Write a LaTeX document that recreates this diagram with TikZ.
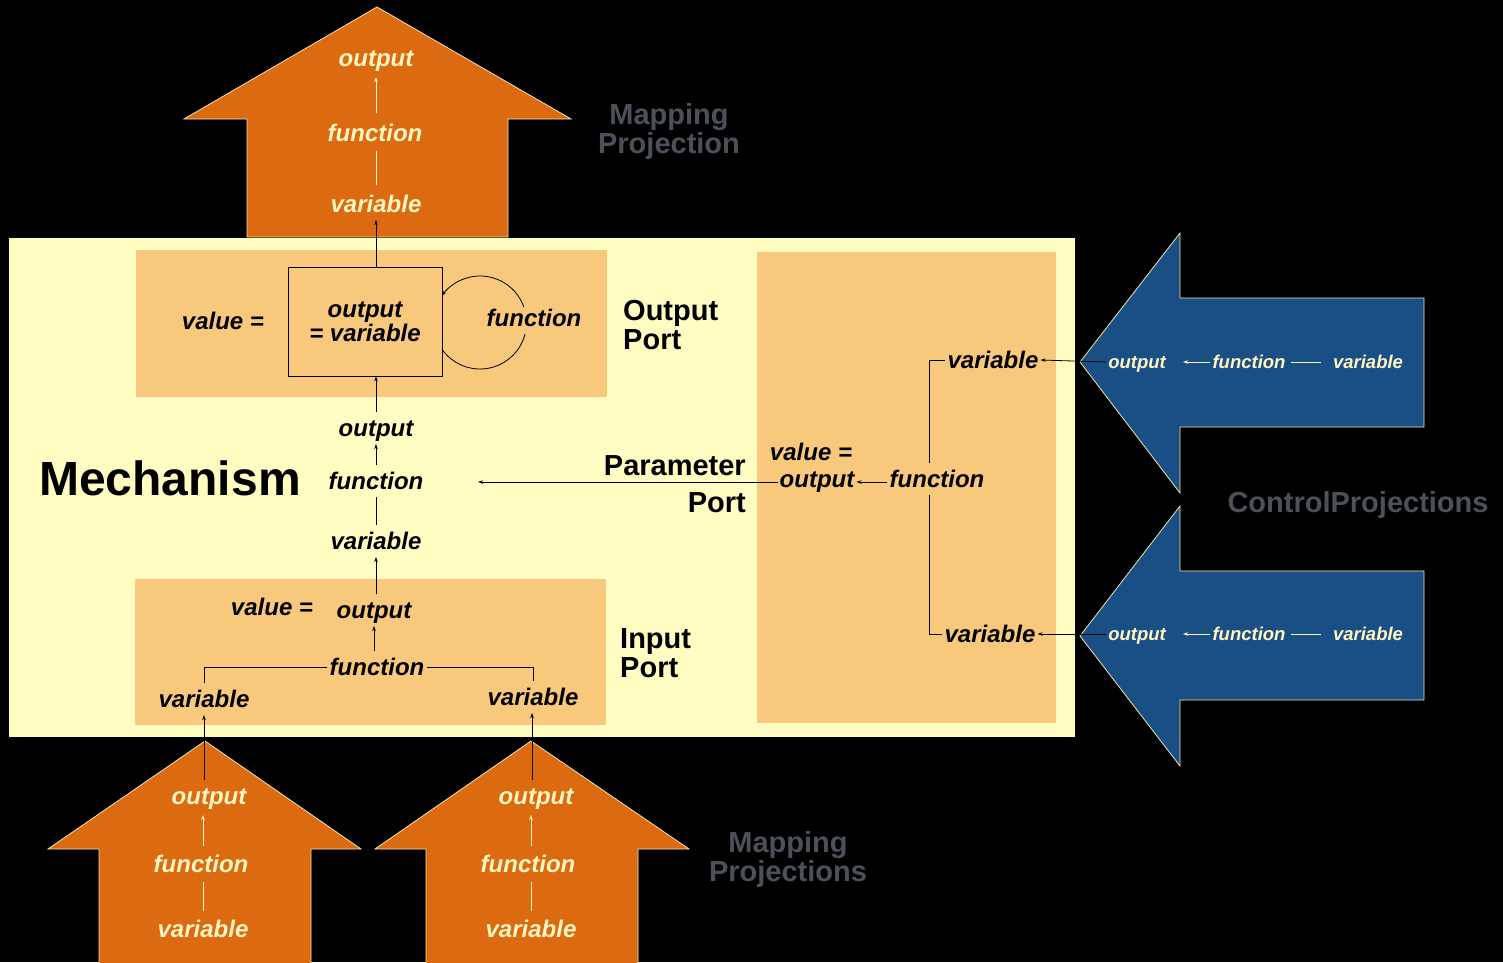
\documentclass[tikz,border=0pt]{standalone}
\usepackage{fontspec}
\setmainfont{Liberation Sans}
\usetikzlibrary{arrows.meta}
\definecolor{mechbg}{RGB}{255,253,194}
\definecolor{portbg}{RGB}{248,201,124}
\definecolor{orangeA}{RGB}{219,106,16}
\definecolor{blueA}{RGB}{26,79,134}
\definecolor{lighttext}{RGB}{255,246,194}
\definecolor{graytext}{RGB}{76,81,89}
\definecolor{edgecol}{RGB}{240,230,170}
\tikzset{
  itfont/.style={font=\fontsize{24}{24}\selectfont\bfseries\itshape},
  lbl/.style={itfont, text height=19.5pt, text depth=2pt, inner xsep=2pt, inner ysep=5pt},
  lbllight/.style={lbl, text=lighttext},
  smlbl/.style={font=\fontsize{18.5}{19}\selectfont\bfseries\itshape, text=lighttext, text height=14.5pt, text depth=1.5pt, inner xsep=2pt, inner ysep=3pt},
  bigtxt/.style={font=\fontsize{29}{29}\selectfont\bfseries, align=left, inner sep=0pt},
  graytxt/.style={font=\fontsize{29}{29}\selectfont\bfseries, text=graytext, align=center, inner sep=0pt},
  conn/.style={line width=0.8pt, draw=black},
  lconn/.style={line width=0.8pt, draw=lighttext},
  tip/.style={-{Stealth[length=5pt,width=3.5pt]}},
  arrowshape/.style={draw=edgecol, line width=0.8pt},
}
\begin{document}
\begin{tikzpicture}[x=1pt,y=-1pt]
\fill[black] (0,0) rectangle (1503,962);
\useasboundingbox (0,0) rectangle (1503,962);
% background shapes
\fill[mechbg] (9,238) rectangle (1075,737);
\draw[arrowshape, fill=orangeA] (377,7) -- (571,119) -- (508,119) -- (508,237) -- (247,237) -- (247,119) -- (184,119) -- cycle;
\draw[arrowshape, fill=orangeA] (205,741) -- (361,849) -- (311,849) -- (311,968) -- (99,968) -- (99,849) -- (48,849) -- cycle;
\draw[arrowshape, fill=orangeA] (531,741) -- (689,849) -- (638,849) -- (638,968) -- (426,968) -- (426,849) -- (375,849) -- cycle;
\draw[arrowshape, fill=blueA] (1080,362) -- (1180,233) -- (1180,298) -- (1424,298) -- (1424,427) -- (1180,427) -- (1180,493) -- cycle;
\draw[arrowshape, fill=blueA] (1080,636) -- (1180,506) -- (1180,571) -- (1424,571) -- (1424,700) -- (1180,700) -- (1180,766) -- cycle;
\fill[portbg] (136,250) rectangle (607,397);
\fill[portbg] (135,579) rectangle (606,725);
\fill[portbg] (757,252) rectangle (1056,723);

% gray captions
\node[graytxt] (mp1) at (669,131.5) {Mapping\\Projection};
\node[graytxt] (mp2) at (788,859) {Mapping\\Projections};
\node[graytxt] (cp) at (1358,505) {ControlProjections};

% top mapping projection
\node[lbllight] (to) at (376,58) {output};
\node[lbllight] (tf) at (375,133) {function};
\node[lbllight] (tv) at (376,204) {variable};
\draw[lconn, tip, shorten <=4pt, shorten >=3pt] (tf.north -| to) -- (to.south);
\draw[lconn, shorten <=3pt, shorten >=2pt] (tv.north) -- (tv.north |- tf.south);

% output port
\node[itfont, draw=black, line width=0.8pt, fill=portbg, minimum width=154pt, minimum height=109pt, align=center] (ob) at (365,321.5) {output\\= variable};
\node[lbl] (oval) at (223,321) {value =};
\node[lbl] (oloop) at (534,318) {function};
\node[bigtxt, anchor=west] (opl) at (623,325) {Output\\Port};
\coordinate (la) at (523.87,307.05);
\coordinate (lb) at (442.0,349.3);
\draw[conn, tip] (la) arc[start angle=-19.4, end angle=-144.8, radius=46.5];
\draw[conn] (lb) arc[start angle=144.8, end angle=14.6, radius=46.5];
\draw[conn, tip] (ob.north -| tv) -- (tv.south);

% mechanism middle
\node[font=\fontsize{48}{49}\selectfont\bfseries] (mech) at (170,478) {Mechanism};
\node[lbl] (mo) at (376,428) {output};
\node[lbl] (mf) at (376,481) {function};
\node[lbl] (mv) at (376,541) {variable};
\draw[conn, tip] (mo.north) -- (mo.north |- ob.south);
\draw[conn, tip] (mf) -- (mo);
\draw[conn] (mv) -- (mf);

% input port
\node[lbl] (ival) at (272,607) {value =};
\node[lbl] (io) at (374,610) {output};
\node[lbl] (ifn) at (377,667) {function};
\node[lbl] (ilv) at (204,699) {variable};
\node[lbl] (irv) at (533,697) {variable};
\node[bigtxt, anchor=west] (ipl) at (620,653) {Input\\Port};
\draw[conn, tip] (io.north -| mv) -- (mv);
\draw[conn, tip] (ifn.north -| io) -- (io);
\draw[conn] (ifn.west) -| (ilv.north);
\draw[conn] (ifn.east) -| (irv.north);

% bottom mapping projections
\node[lbllight] (lo) at (209,796) {output};
\node[lbllight] (lf) at (201,864) {function};
\node[lbllight] (lv) at (203,929) {variable};
\node[lbllight] (ro) at (536,796) {output};
\node[lbllight] (rf) at (528,864) {function};
\node[lbllight] (rv) at (531,929) {variable};
\draw[lconn, tip, shorten <=2pt, shorten >=3pt] (lf.north -| lv) -- (lo.south -| lv);
\draw[lconn, shorten <=2pt, shorten >=2pt] (lv.north) -- (lv.north |- lf.south);
\draw[lconn, tip, shorten <=2pt, shorten >=3pt] (rf.north -| rv) -- (ro.south -| rv);
\draw[lconn, shorten <=2pt, shorten >=2pt] (rv.north) -- (rv.north |- rf.south);
\draw[conn, tip] (lo.north -| ilv) -- (ilv.south);
\draw[conn, tip] (ro.north -| 532,0) -- (irv.south -| 532,0);

% parameter port
\node[lbl] (pval) at (811,452) {value =};
\node[lbl] (po) at (817,479) {output};
\node[lbl] (pf) at (937,479) {function};
\node[lbl] (pv1) at (993,360) {variable};
\node[lbl] (pv2) at (990,634) {variable};
\node[bigtxt, align=right, anchor=east, font=\fontsize{29}{37}\selectfont\bfseries] (ppl) at (746,484) {Parameter\\Port};
\coordinate (pend) at (478,482);
\draw[conn, tip] (po.west |- pend) -- (pend);
\draw[conn, tip] (pf.west |- pend) -- (po.east |- pend);
\draw[conn] ([xshift=-8pt]pf.north) |- (pv1.west);
\draw[conn] ([xshift=-8pt]pf.south) |- (pv2.west);

% control projections
\node[smlbl] (co1) at (1137,362) {output};
\node[smlbl] (cf1) at (1249,362) {function};
\node[smlbl] (cv1) at (1368,362) {variable};
\node[smlbl] (co2) at (1137,634) {output};
\node[smlbl] (cf2) at (1249,634) {function};
\node[smlbl] (cv2) at (1368,634) {variable};
\draw[lconn, tip, shorten >=15pt] (cf1) -- (co1);
\draw[lconn, shorten >=10pt, shorten <=3pt] (cf1) -- (cv1);
\draw[lconn, tip, shorten >=15pt] (cf2) -- (co2);
\draw[lconn, shorten >=10pt, shorten <=3pt] (cf2) -- (cv2);
\draw[conn, tip] (co1.west) -- (pv1.east);
\draw[conn, tip] (co2.west) -- (pv2.east);
\end{tikzpicture}
\end{document}
